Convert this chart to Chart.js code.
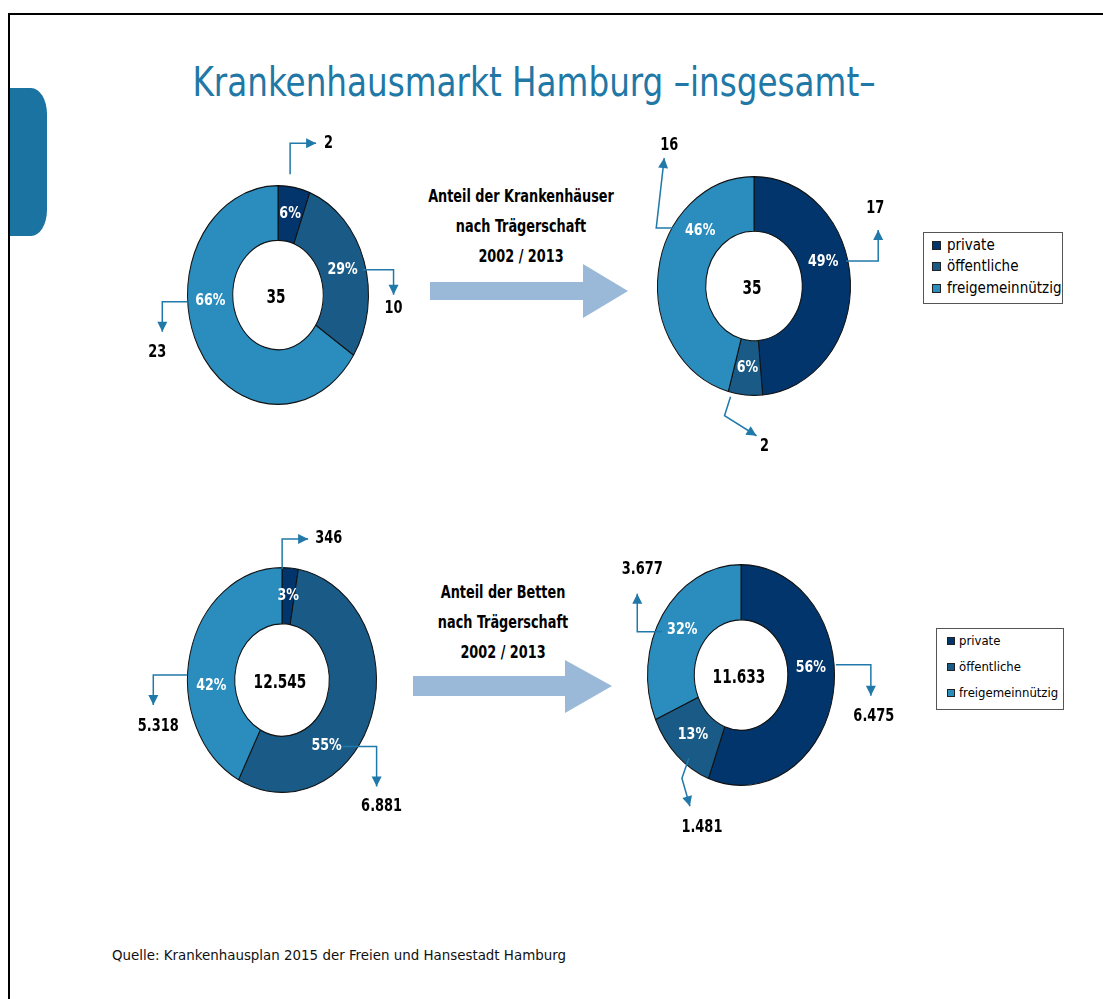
<!DOCTYPE html>
<html>
<head>
<meta charset="utf-8">
<script src="https://cdn.jsdelivr.net/npm/chart.js@4/dist/chart.umd.min.js"></script>
<style>
    body { margin: 0; background: #fff; width: 1103px; height: 999px; position: relative; overflow: hidden;
           font-family: "DejaVu Sans Condensed", "Liberation Sans Narrow", sans-serif; }
    #frame { position: absolute; left: 8px; top: 13px; width: 1110px; height: 1000px;
             border-top: 2px solid #000; border-left: 2px solid #000; }
    #blob { position: absolute; left: 10px; top: 88px; width: 37px; height: 148px; background: #1a73a0;
            border-radius: 0 16px 16px 0 / 0 26px 26px 0; }
    #title { position: absolute; left: 0; width: 1068px; top: 58px; text-align: center; white-space: nowrap;
             font-size: 41px; line-height: 48px; color: #1f78a6; transform: scaleX(0.885); transform-origin: 534px 0; }
    .cap { position: absolute; width: 260px; text-align: center; font-weight: bold; font-size: 17px;
           line-height: 30px; color: #000; transform: scaleX(0.84); }
    .box { position: absolute; }
    .legend { position: absolute; border: 1px solid #555; background: #fff; }
    .legend div { position: absolute; white-space: nowrap; }
    .legend span { display: inline-block; border: 1px solid #222; vertical-align: middle; }
    #src { position: absolute; left: 112px; top: 946px; font-size: 14.9px; color: #111; white-space: nowrap; }
    svg.arr { position: absolute; left: 0; top: 0; }
</style>
</head>
<body>
<div id="frame"></div>
<div id="blob"></div>
<div id="title">Krankenhausmarkt Hamburg –insgesamt–</div>

<svg class="arr" width="1103" height="999">
    <polygon points="430,282 583,282 583,264 628,291 583,318 583,300 430,300" fill="#9ab9d9"/>
    <polygon points="413,676 565,676 565,660 612,686 565,713 565,696 413,696" fill="#9ab9d9"/>
</svg>

<div class="cap" style="left:391px; top:181px;">Anteil der Krankenhäuser<br>nach Trägerschaft<br>2002 / 2013</div>
<div class="cap" style="left:373px; top:577px;">Anteil der Betten<br>nach Trägerschaft<br>2002 / 2013</div>

<div class="box" style="left:78px; top:115px;"><canvas id="c1" width="400" height="360"></canvas></div>
<div class="box" style="left:554px; top:106px;"><canvas id="c2" width="400" height="360"></canvas></div>
<div class="box" style="left:82px; top:500px;"><canvas id="c3" width="400" height="360"></canvas></div>
<div class="box" style="left:541px; top:495px;"><canvas id="c4" width="400" height="360"></canvas></div>

<div class="legend" id="leg1" style="left:923px; top:232px; width:138px; height:70px;"></div>
<div class="legend" id="leg2" style="left:936px; top:628px; width:126px; height:80px;"></div>

<div id="src">Quelle: Krankenhausplan 2015 der Freien und Hansestadt Hamburg</div>

<script>
    // data
    const categories = ['private', 'öffentliche', 'freigemeinnützig'];
    const houses2002 = [2, 10, 23];
    const houses2013 = [17, 2, 16];
    const beds2002 = [346, 6881, 5318];
    const beds2013 = [6475, 1481, 3677];
    const colors = ['#02356b', '#195b86', '#2b8cbe'];

    const FONT = '"DejaVu Sans Condensed", "Liberation Sans Narrow", sans-serif';
    const LINE = '#2079a9';

    function fmt(n) {
        return String(n).replace(/\B(?=(\d{3})+(?!\d))/g, '.');
    }

    // narrow text: the slide font is much narrower than anything installed
    function text(ctx, s, x, y, sx, align) {
        ctx.save();
        ctx.translate(x, y);
        ctx.scale(sx, 1);
        ctx.textAlign = align || 'center';
        ctx.fillText(s, 0, 0);
        ctx.restore();
    }

    // label angle overrides (degrees from 12 o'clock), callout paths relative to the label,
    // and value text offset relative to the arrow tip
    const charts = [
        { id: 'c1', data: houses2002, rx: 91, ry: 110,
          labelAngle: [null, null, 266],
          callouts: [
              { path: [[0, -40], [0, -71], [26, -71]], text: [8, 0, 'left'] },
              { path: [[20, 0], [51, 0], [51, 25]], text: [0, 14, 'center'] },
              { path: [[-23, 1], [-48, 1], [-48, 31]], text: [-5, 21, 'center'] }
          ] },
        { id: 'c2', data: houses2013, rx: 97, ry: 110,
          labelAngle: [73, null, 312],
          callouts: [
              { path: [[23, -1], [55, -1], [55, -32]], text: [-3, -22, 'center'] },
              { path: [[-17, 29], [-23, 48], [9, 68]], text: [8, 11, 'center'] },
              { path: [[-27, -3], [-44, -3], [-36, -73]], text: [5, -13, 'center'] }
          ] },
        { id: 'c3', data: beds2002, rx: 95, ry: 113,
          labelAngle: [null, 141, 266],
          callouts: [
              { path: [[-6, -27], [-6, -57], [20, -57]], text: [7, -1, 'left'] },
              { path: [[16, 1], [50, 1], [50, 41]], text: [5, 20, 'center'] },
              { path: [[-24, -11], [-58, -11], [-58, 19]], text: [5, 21, 'center'] }
          ] },
        { id: 'c4', data: beds2013, rx: 94, ry: 111,
          labelAngle: [85, null, null],
          callouts: [
              { path: [[25, -3], [60, -3], [60, 28]], text: [3, 21, 'center'] },
              { path: [[-4, 23], [-11, 43], [-3, 71]], text: [12, 21, 'center'] },
              { path: [[-20, 2], [-45, 2], [-45, -36]], text: [5, -24, 'center'] }
          ] }
    ];

    const donutDecor = {
        id: 'donutDecor',
        beforeDatasetsDraw(chart, args, opts) {
            const a = chart.getDatasetMeta(0).data[0];
            const ctx = chart.ctx;
            ctx.save();
            ctx.translate(a.x, a.y);
            ctx.scale(1, opts.sy);
            ctx.translate(-a.x, -a.y);
        },
        afterDatasetsDraw(chart, args, opts) {
            const ctx = chart.ctx;
            ctx.restore();
            const values = chart.data.datasets[0].data;
            const sum = values.reduce((s, v) => s + v, 0);
            const arcs = chart.getDatasetMeta(0).data;
            ctx.save();
            ctx.textBaseline = 'middle';
            arcs.forEach((arc, i) => {
                const p = arc.getProps(['x', 'y', 'startAngle', 'endAngle', 'innerRadius', 'outerRadius'], true);
                const ang = opts.labelAngle[i] != null ? (opts.labelAngle[i] - 90) * Math.PI / 180
                                                       : (p.startAngle + p.endAngle) / 2;
                const r = (p.innerRadius + p.outerRadius) / 2;
                const lx = p.x + Math.cos(ang) * r;
                const ly = p.y + Math.sin(ang) * r * opts.sy;

                ctx.fillStyle = '#fff';
                ctx.font = 'bold 16px ' + FONT;
                text(ctx, Math.round(values[i] / sum * 100) + '%', lx, ly, 0.88);

                // callout line with arrow head
                const c = opts.callouts[i];
                const pts = c.path.map(q => [lx + q[0], ly + q[1]]);
                ctx.strokeStyle = LINE;
                ctx.lineWidth = 1.5;
                ctx.beginPath();
                pts.forEach((q, k) => k ? ctx.lineTo(q[0], q[1]) : ctx.moveTo(q[0], q[1]));
                ctx.stroke();
                const tip = pts[pts.length - 1], prev = pts[pts.length - 2];
                const d = Math.atan2(tip[1] - prev[1], tip[0] - prev[0]);
                ctx.fillStyle = LINE;
                ctx.beginPath();
                ctx.moveTo(tip[0], tip[1]);
                ctx.lineTo(tip[0] - 10 * Math.cos(d) + 5 * Math.sin(d), tip[1] - 10 * Math.sin(d) - 5 * Math.cos(d));
                ctx.lineTo(tip[0] - 10 * Math.cos(d) - 5 * Math.sin(d), tip[1] - 10 * Math.sin(d) + 5 * Math.cos(d));
                ctx.closePath();
                ctx.fill();

                ctx.fillStyle = '#000';
                ctx.font = 'bold 18px ' + FONT;
                text(ctx, fmt(values[i]), tip[0] + c.text[0], tip[1] + c.text[1], 0.8, c.text[2]);
            });
            // total in the hole
            const a = arcs[0];
            ctx.fillStyle = '#000';
            ctx.font = 'bold 20px ' + FONT;
            text(ctx, fmt(sum), a.x - 2, a.y + 3, 0.76);
            ctx.restore();
        }
    };

    charts.forEach(cfg => {
        const pad = 180 - cfg.rx;
        new Chart(document.getElementById(cfg.id), {
            type: 'doughnut',
            data: {
                labels: categories,
                datasets: [{
                    data: cfg.data,
                    backgroundColor: colors,
                    borderColor: '#111',
                    borderWidth: 1
                }]
            },
            options: {
                responsive: false,
                animation: false,
                events: [],
                cutout: '50%',
                layout: { padding: { top: pad, bottom: pad, left: 0, right: 0 } },
                plugins: {
                    legend: { display: false },
                    tooltip: { enabled: false },
                    donutDecor: { sy: cfg.ry / cfg.rx, labelAngle: cfg.labelAngle, callouts: cfg.callouts }
                }
            },
            plugins: [donutDecor]
        });
    });

    // legends
    function legend(id, sq, fs, x0, tx, rows) {
        const el = document.getElementById(id);
        categories.forEach((c, i) => {
            const row = document.createElement('div');
            row.style.left = x0 + 'px';
            row.style.top = (rows[i] - fs * 0.65) + 'px';
            row.style.fontSize = fs + 'px';
            row.style.lineHeight = (fs * 1.3) + 'px';
            row.innerHTML = '<span style="width:' + sq + 'px;height:' + sq + 'px;background:' + colors[i] +
                ';margin-right:' + tx + 'px"></span>' + c;
            el.appendChild(row);
        });
    }
    legend('leg1', 7, 15, 8, 6, [13, 34, 56]);
    legend('leg2', 6, 13, 10, 4, [12, 38, 64]);
</script>
</body>
</html>
